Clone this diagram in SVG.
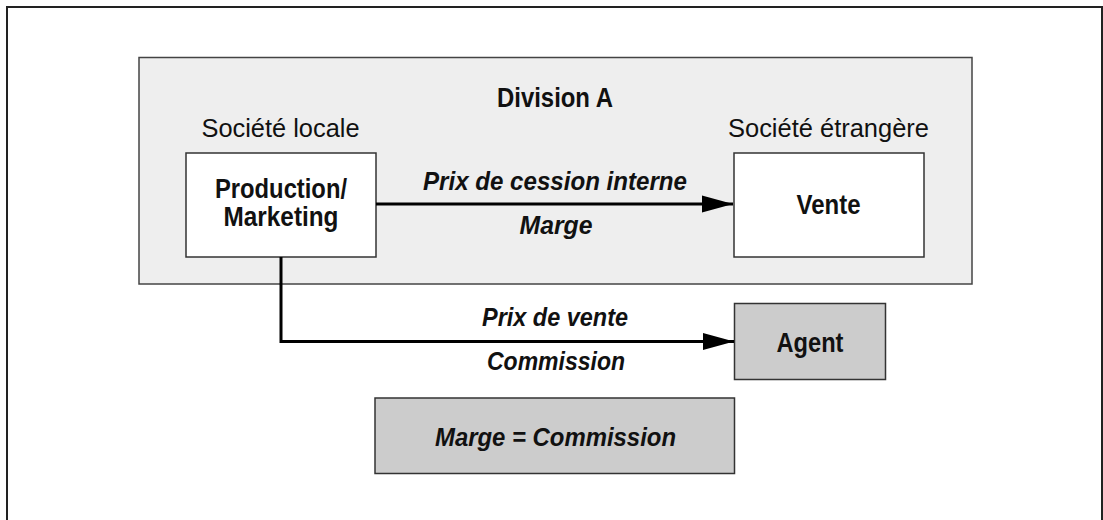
<svg xmlns="http://www.w3.org/2000/svg" width="1103" height="520" viewBox="0 0 1103 520">
<style>
.reg{font-family:"Liberation Sans",Arial,sans-serif;font-size:26.5px;fill:#111}
.b{font-family:"Liberation Sans",Arial,sans-serif;font-size:27px;font-weight:bold;fill:#111}
.bi{font-family:"Liberation Sans",Arial,sans-serif;font-size:25px;font-weight:bold;font-style:italic;fill:#111}
.white{fill:#fff;stroke:#333;stroke-width:1.5}
.grey{fill:#ccc;stroke:#333;stroke-width:1.5}
.conn{fill:none;stroke:#000;stroke-width:3}
</style>
<defs>
<marker id="arr" markerUnits="userSpaceOnUse" markerWidth="32" markerHeight="18" refX="31" refY="9" orient="auto">
<path d="M0,0.5 L31,9 L0,17.5 Z" fill="#000"/>
</marker>
</defs>
<rect x="7" y="7" width="1095" height="530" fill="#fff" stroke="#222" stroke-width="2"/>
<g id="division-a">
<rect x="139" y="57.5" width="833" height="226.5" fill="#eee" stroke="#444" stroke-width="1.5"/>
<text class="b" x="555" y="107" text-anchor="middle" textLength="116" lengthAdjust="spacingAndGlyphs">Division A</text>
</g>
<g id="societe-locale">
<text class="reg" x="280.5" y="136.5" text-anchor="middle" textLength="158" lengthAdjust="spacingAndGlyphs">Société locale</text>
</g>
<g id="societe-etrangere">
<text class="reg" x="828.5" y="136.5" text-anchor="middle" textLength="201" lengthAdjust="spacingAndGlyphs">Société étrangère</text>
</g>
<g id="production">
<rect class="white" x="186" y="153" width="190" height="104"/>
<text class="b" x="281" y="197.5" text-anchor="middle" textLength="132" lengthAdjust="spacingAndGlyphs">Production/</text>
<text class="b" x="281" y="225.5" text-anchor="middle" textLength="115" lengthAdjust="spacingAndGlyphs">Marketing</text>
</g>
<g id="vente">
<rect class="white" x="734" y="153" width="190" height="104"/>
<text class="b" x="828.5" y="213.5" text-anchor="middle" textLength="64" lengthAdjust="spacingAndGlyphs">Vente</text>
</g>
<g id="agent">
<rect class="grey" x="734.5" y="303.5" width="151" height="76"/>
<text class="b" x="810" y="351.5" text-anchor="middle" textLength="67" lengthAdjust="spacingAndGlyphs">Agent</text>
</g>
<g id="marge-commission">
<rect class="grey" x="375" y="398" width="359.5" height="75.5"/>
<text class="bi" x="555.5" y="446" text-anchor="middle" textLength="241" lengthAdjust="spacingAndGlyphs">Marge = Commission</text>
</g>
<g id="connectors">
<line class="conn" x1="376" y1="204" x2="733" y2="204" marker-end="url(#arr)"/>
<polyline class="conn" points="281,257 281,341.5 734,341.5" marker-end="url(#arr)"/>
<text class="bi" x="555" y="190" text-anchor="middle" textLength="264" lengthAdjust="spacingAndGlyphs">Prix de cession interne</text>
<text class="bi" x="556" y="234" text-anchor="middle" textLength="73" lengthAdjust="spacingAndGlyphs">Marge</text>
<text class="bi" x="555" y="326" text-anchor="middle" textLength="146" lengthAdjust="spacingAndGlyphs">Prix de vente</text>
<text class="bi" x="556" y="370" text-anchor="middle" textLength="138" lengthAdjust="spacingAndGlyphs">Commission</text>
</g>
</svg>
